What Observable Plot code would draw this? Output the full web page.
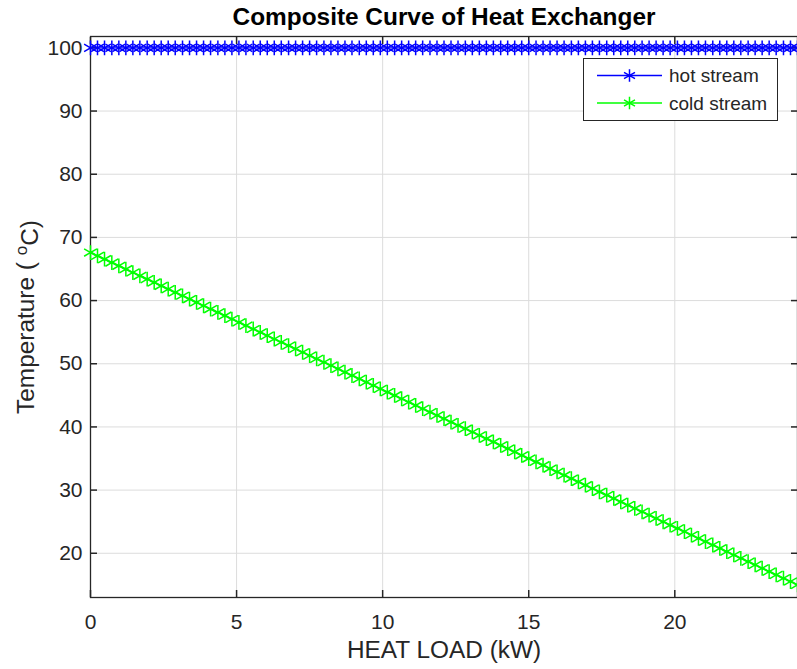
<!DOCTYPE html>
<html>
<head>
<meta charset="utf-8">
<script src="https://cdn.jsdelivr.net/npm/d3@7"></script>
<script src="https://cdn.jsdelivr.net/npm/@observablehq/plot@0.6"></script>
<style>
  html, body { margin: 0; padding: 0; background: #fff; }
  #chart { width: 797px; height: 669px; overflow: hidden; }
</style>
</head>
<body>
<div id="chart"></div>
<script>
// ---- data ----
const heatLoad = [0, 0.24, 0.48, 0.73, 0.97, 1.21, 1.45, 1.69, 1.94, 2.18, 2.42, 2.66, 2.90, 3.15, 3.39, 3.63, 3.87, 4.11, 4.36, 4.60, 4.84, 5.08, 5.32, 5.57, 5.81, 6.05, 6.29, 6.53, 6.78, 7.02, 7.26, 7.50, 7.74, 7.99, 8.23, 8.47, 8.71, 8.95, 9.20, 9.44, 9.68, 9.92, 10.16, 10.41, 10.65, 10.89, 11.13, 11.37, 11.62, 11.86, 12.10, 12.34, 12.58, 12.83, 13.07, 13.31, 13.55, 13.79, 14.04, 14.28, 14.52, 14.76, 15.00, 15.25, 15.49, 15.73, 15.97, 16.21, 16.46, 16.70, 16.94, 17.18, 17.42, 17.67, 17.91, 18.15, 18.39, 18.63, 18.88, 19.12, 19.36, 19.60, 19.84, 20.09, 20.33, 20.57, 20.81, 21.05, 21.30, 21.54, 21.78, 22.02, 22.26, 22.51, 22.75, 22.99, 23.23, 23.47, 23.72, 23.96, 24.20];
const hotTemp = [100, 100, 100, 100, 100, 100, 100, 100, 100, 100, 100, 100, 100, 100, 100, 100, 100, 100, 100, 100, 100, 100, 100, 100, 100, 100, 100, 100, 100, 100, 100, 100, 100, 100, 100, 100, 100, 100, 100, 100, 100, 100, 100, 100, 100, 100, 100, 100, 100, 100, 100, 100, 100, 100, 100, 100, 100, 100, 100, 100, 100, 100, 100, 100, 100, 100, 100, 100, 100, 100, 100, 100, 100, 100, 100, 100, 100, 100, 100, 100, 100, 100, 100, 100, 100, 100, 100, 100, 100, 100, 100, 100, 100, 100, 100, 100, 100, 100, 100, 100, 100];
const coldTemp = [67.60, 67.07, 66.55, 66.02, 65.50, 64.97, 64.44, 63.92, 63.39, 62.87, 62.34, 61.81, 61.29, 60.76, 60.24, 59.71, 59.18, 58.66, 58.13, 57.61, 57.08, 56.55, 56.03, 55.50, 54.98, 54.45, 53.92, 53.40, 52.87, 52.35, 51.82, 51.29, 50.77, 50.24, 49.72, 49.19, 48.66, 48.14, 47.61, 47.09, 46.56, 46.03, 45.51, 44.98, 44.46, 43.93, 43.40, 42.88, 42.35, 41.83, 41.30, 40.77, 40.25, 39.72, 39.20, 38.67, 38.14, 37.62, 37.09, 36.57, 36.04, 35.51, 34.99, 34.46, 33.94, 33.41, 32.88, 32.36, 31.83, 31.31, 30.78, 30.25, 29.73, 29.20, 28.68, 28.15, 27.62, 27.10, 26.57, 26.05, 25.52, 24.99, 24.47, 23.94, 23.42, 22.89, 22.36, 21.84, 21.31, 20.79, 20.26, 19.73, 19.21, 18.68, 18.16, 17.63, 17.10, 16.58, 16.05, 15.53, 15.00];
const xTicks = [0, 5, 10, 15, 20];
const yTicks = [20, 30, 40, 50, 60, 70, 80, 90, 100];
const seriesNames = ["hot stream", "cold stream"];
const titleText = "Composite Curve of Heat Exchanger";
const xLabelText = "HEAT LOAD (kW)";
const yLabelText = "Temperature ( oC)";

// ---- styles ----
const colors = ["#0000ff", "#00ff00"];
const ink = "#262626";
const font = "'Liberation Sans', Arial, Helvetica, sans-serif";
const markR = 7;
const markW = 1.5;

const rows = heatLoad.map((x, i) => ({x, hot: hotTemp[i], cold: coldTemp[i]}));
const noText = () => "";

const chart = Plot.plot({
  width: 797,
  height: 669,
  marginLeft: 90,
  marginRight: 0,
  marginTop: 36,
  marginBottom: 72,
  style: {fontFamily: font, fontSize: "21px", color: ink, background: "white", overflow: "visible"},
  x: {domain: [0, 24.2]},
  y: {domain: [13, 101.8]},
  marks: [
    Plot.gridX(xTicks, {stroke: "#dcdcdc", strokeOpacity: 1, strokeWidth: 1}),
    Plot.gridY(yTicks, {stroke: "#dcdcdc", strokeOpacity: 1, strokeWidth: 1}),
    Plot.axisX(xTicks, {anchor: "bottom", tickSize: 0, tickPadding: 17, label: null, fontSize: 21, fill: ink}),
    Plot.axisX(xTicks, {anchor: "bottom", tickSize: 7, dy: -7, tickFormat: noText, label: null, stroke: ink, strokeWidth: 1.5}),
    Plot.axisX(xTicks, {anchor: "top", tickSize: 7, dy: 7, tickFormat: noText, label: null, stroke: ink, strokeWidth: 1.5}),
    Plot.axisY(yTicks, {anchor: "left", tickSize: 0, tickPadding: 8, label: null, fontSize: 21, fill: ink}),
    Plot.axisY(yTicks, {anchor: "left", tickSize: 7, dx: 7, tickFormat: noText, label: null, stroke: ink, strokeWidth: 1.5}),
    Plot.axisY(yTicks, {anchor: "right", tickSize: 7, dx: -7, tickFormat: noText, label: null, stroke: ink, strokeWidth: 1.5}),
    Plot.frame({stroke: ink, strokeWidth: 1.3}),
    Plot.line(rows, {x: "x", y: "hot", stroke: colors[0], strokeWidth: 1.3}),
    Plot.dot(rows, {x: "x", y: "hot", symbol: "asterisk", r: markR, stroke: colors[0], strokeWidth: markW}),
    Plot.line(rows, {x: "x", y: "cold", stroke: colors[1], strokeWidth: 1.3}),
    Plot.dot(rows, {x: "x", y: "cold", symbol: "asterisk", r: markR, stroke: colors[1], strokeWidth: markW}),
    Plot.text([titleText], {text: d => d, frameAnchor: "top", dy: -19, lineAnchor: "middle", textAnchor: "middle", fontWeight: "bold", fontSize: 24.4, fill: "#000"}),
    Plot.text([xLabelText], {text: d => d, frameAnchor: "bottom", dy: 53, lineAnchor: "middle", textAnchor: "middle", fontSize: 24.4, fill: ink}),
    Plot.text([yLabelText], {text: d => d, frameAnchor: "left", dx: -64, rotate: -90, lineAnchor: "middle", textAnchor: "middle", fontSize: 24.4, fill: ink})
  ]
});

document.getElementById("chart").appendChild(chart);

// superscript "o" in the y label
const svg = d3.select(chart);
svg.selectAll("text").each(function() {
  if (this.textContent === yLabelText) {
    const t = d3.select(this);
    t.text(null);
    t.append("tspan").text("Temperature ( ");
    t.append("tspan").attr("dy", "-0.45em").attr("font-size", "70%").text("o");
    t.append("tspan").attr("dy", "0.45em").text("C)");
  }
});

// legend (MATLAB style box, top right)
const lg = svg.append("g").attr("font-family", font).attr("font-size", 19).attr("fill", ink).attr("text-anchor", "start");
lg.append("rect").attr("x", 583.5).attr("y", 58.5).attr("width", 194).attr("height", 62)
  .attr("fill", "white").attr("stroke", ink).attr("stroke-width", 1);
const sym = d3.symbol(d3.symbolAsterisk, Math.PI * 6 * 6);
seriesNames.forEach((name, i) => {
  const cy = 75.5 + i * 27.5;
  lg.append("line").attr("x1", 597).attr("x2", 662).attr("y1", cy).attr("y2", cy)
    .attr("stroke", colors[i]).attr("stroke-width", 1.3);
  lg.append("path").attr("d", sym()).attr("transform", `translate(629.5,${cy})`)
    .attr("fill", "none").attr("stroke", colors[i]).attr("stroke-width", markW);
  lg.append("text").attr("x", 669).attr("y", cy).attr("dy", "0.35em").attr("text-anchor", "start").text(name);
});
</script>
</body>
</html>
